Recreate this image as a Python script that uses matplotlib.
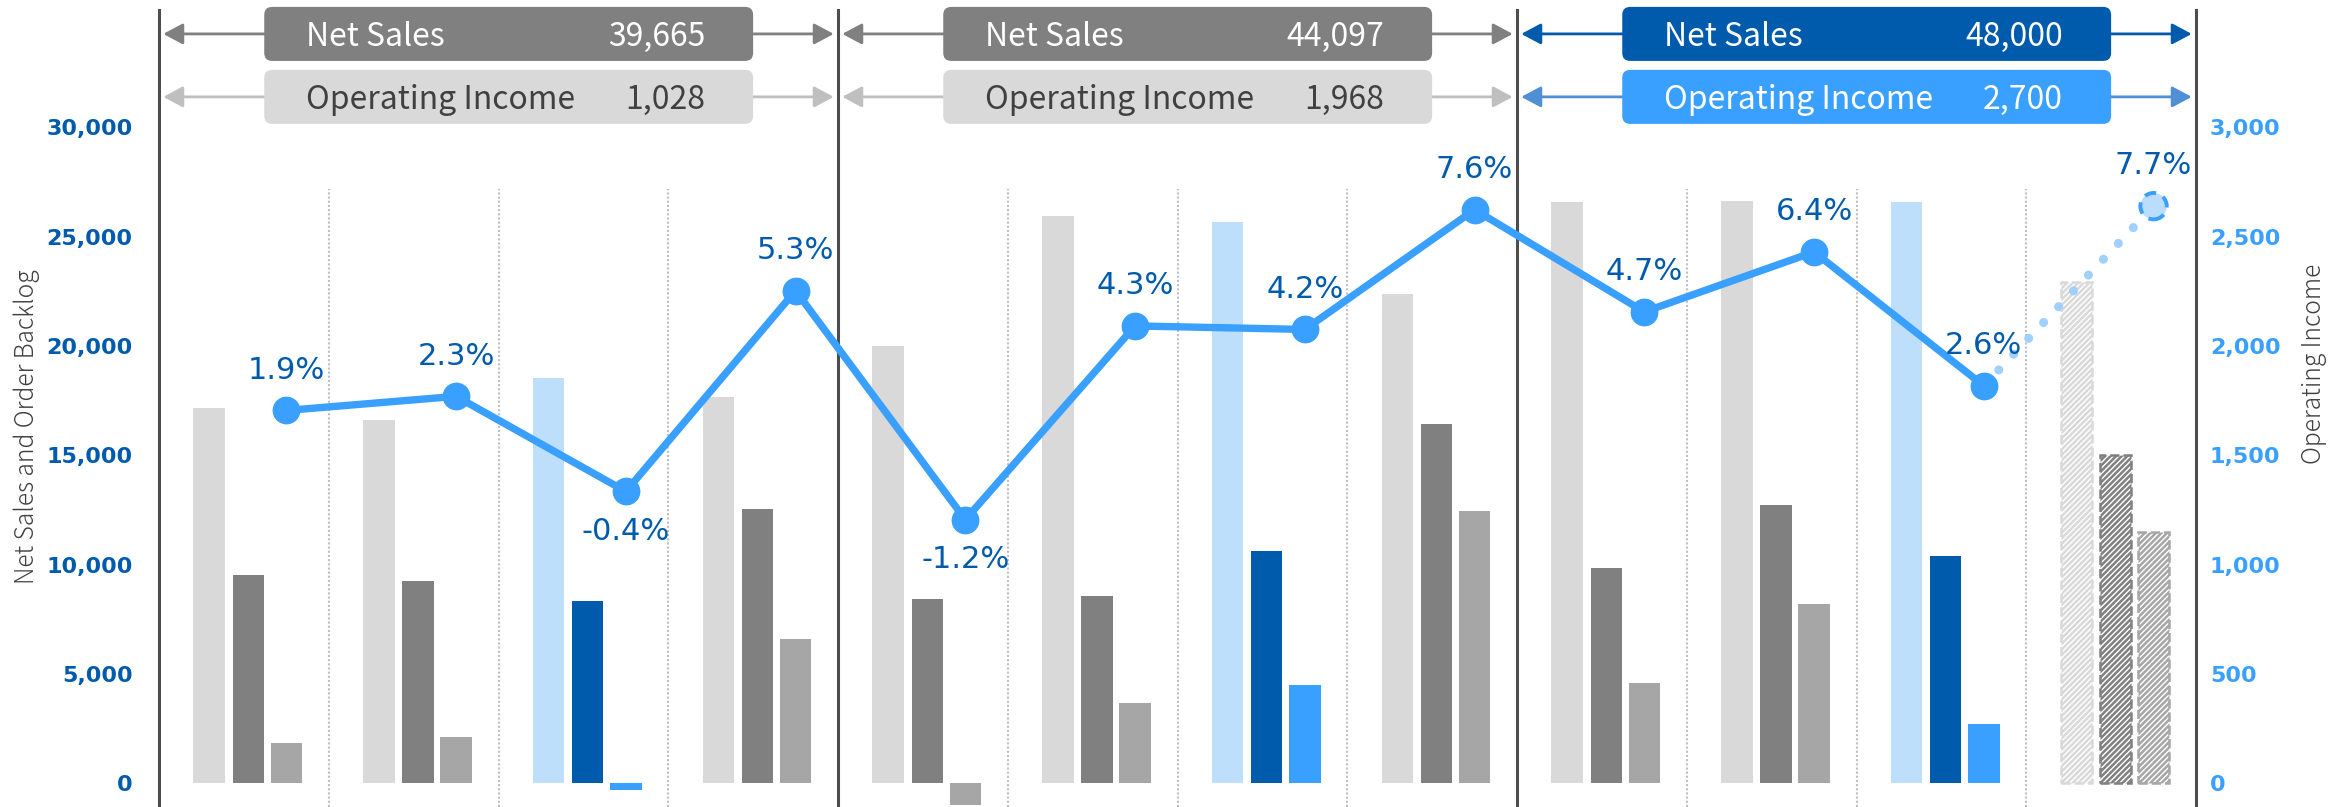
import numpy as np
import matplotlib.pyplot as plt
from matplotlib.patches import FancyBboxPatch
from matplotlib.ticker import FuncFormatter

# quarterly values (3 fiscal years x 4 quarters, last quarter = forecast)
quarters = np.arange(12)
backlog = [17190, 16640, 18560, 17670, 20000, 25960, 25690, 22400, 26580, 26640, 26580, 22950]
net_sales = [9520, 9250, 8360, 12535, 8430, 8580, 10630, 16457, 9860, 12740, 10400, 15000]
op_income = [183, 213, -30, 662, -100, 370, 450, 1248, 460, 820, 270, 1150]
margin = [1.9, 2.3, -0.4, 5.3, -1.2, 4.3, 4.2, 7.6, 4.7, 6.4, 2.6, 7.7]

# yearly totals shown in the header boxes
year_ns = [39665, 44097, 48000]
year_oi = [1028, 1968, 2700]

highlight = [2, 6, 10]
forecast = 11

plt.rcParams['hatch.linewidth'] = 1.8

fig = plt.figure(figsize=(23.49, 8.07), dpi=100)
ax = fig.add_axes([159 / 2349, 0, 2037 / 2349, 797 / 807])
ax2 = ax.twinx()
ax3 = ax.twinx()

ax.set_xlim(-0.5, 11.5)
ax.set_ylim(-1075, 35370)
ax2.set_ylim(-107.5, 3537)
ax3.set_ylim(-9.36, 13.27)

w = 0.185
off_bl, off_ns, off_oi = -0.205, 0.026, 0.25

for i in quarters:
    hi = i in highlight
    c_bl = '#bddffc' if hi else '#d9d9d9'
    c_ns = '#005bac' if hi else '#808080'
    c_oi = '#3aa0ff' if hi else '#a6a6a6'
    if i == forecast:
        ax.bar(i + off_bl, backlog[i], w, facecolor='white', edgecolor=c_bl,
               hatch='//////', linestyle='--', linewidth=1.8)
        ax.bar(i + off_ns, net_sales[i], w, facecolor='white', edgecolor=c_ns,
               hatch='//////', linestyle='--', linewidth=1.8)
        ax2.bar(i + off_oi, op_income[i], w, facecolor='white', edgecolor=c_oi,
                hatch='//////', linestyle='--', linewidth=1.8)
    else:
        ax.bar(i + off_bl, backlog[i], w, color=c_bl)
        ax.bar(i + off_ns, net_sales[i], w, color=c_ns)
        ax2.bar(i + off_oi, op_income[i], w, color=c_oi)

# dividers
for x in np.arange(0.5, 11.5, 1.0):
    if x in (3.5, 7.5):
        continue
    ax.axvline(x, ymin=0, ymax=0.775, color='#bfbfbf', lw=1.5, ls=(0, (1, 1)), zorder=0)
for x in (-0.5, 3.5, 7.5, 11.5):
    ax.axvline(x, color='#4d4d4d', lw=2.2, clip_on=False, zorder=3)

# operating margin line
xm = quarters + off_oi
ax3.plot(xm[10:], margin[10:], color='#9fd0ff', lw=6.5,
         ls=(0, (0.01, 2.4)), dash_capstyle='round', zorder=2)
ax3.plot(xm[:11], margin[:11], color='#3aa0ff', lw=5.3, marker='o', ms=19,
         solid_joinstyle='round', zorder=3)
ax3.scatter([xm[11]], [margin[11]], s=19 ** 2, facecolor='#bbddfc',
            edgecolor='#3aa0ff', linewidths=2.8, linestyle=(0, (3, 2)), zorder=4)
for x, m in zip(xm, margin):
    dy = 29 if m >= 0 else -29
    ax3.annotate(f'{m:.1f}%', (x, m), xytext=(0, dy), textcoords='offset points',
                 ha='center', va='center', fontsize=22, color='#005bac',
                 family='DejaVu Sans')

# header boxes with arrows
trans = ax3.get_xaxis_transform()
box_h = 0.0678
rows = [
    (0.970, 'Net Sales', year_ns, ['#808080', '#808080', '#005bac'],
     ['white', 'white', 'white'], ['#808080', '#808080', '#005bac']),
    (0.891, 'Operating Income', year_oi, ['#d9d9d9', '#d9d9d9', '#3aa0ff'],
     ['#404040', '#404040', 'white'], ['#bfbfbf', '#bfbfbf', '#4f8fd6']),
]
for yc, name, vals, fcs, tcs, acs in rows:
    for g in range(3):
        x0 = 4 * g - 0.5
        ax3.annotate('', xy=(x0 + 4 - 0.025, yc), xytext=(x0 + 0.025, yc),
                     xycoords=trans, textcoords=trans, annotation_clip=False,
                     arrowprops=dict(arrowstyle='<|-|>,head_length=0.6,head_width=0.32',
                                     color=acs[g], lw=2, shrinkA=0, shrinkB=0,
                                     mutation_scale=20))
        left, right = 4 * g + 0.12, 4 * g + 3.0
        box = FancyBboxPatch((left, yc - box_h / 2), right - left, box_h,
                             boxstyle='round,pad=0,rounding_size=0.047',
                             mutation_aspect=0.213, transform=trans,
                             facecolor=fcs[g], edgecolor='none', clip_on=False, zorder=5)
        ax3.add_patch(box)
        ax3.text(left + 0.247, yc - 0.004, name, transform=trans, ha='left', va='center',
                 fontsize=23, color=tcs[g], family='Noto Sans CJK JP', zorder=6)
        ax3.text(right - 0.283, yc - 0.004, f'{vals[g]:,}', transform=trans, ha='right',
                 va='center', fontsize=23, color=tcs[g], family='Noto Sans CJK JP',
                 zorder=6)

# axes styling
fmt = FuncFormatter(lambda v, p: f'{v:,.0f}')
ax.set_yticks(np.arange(0, 30001, 5000))
ax.yaxis.set_major_formatter(fmt)
ax2.set_yticks(np.arange(0, 3001, 500))
ax2.yaxis.set_major_formatter(fmt)
ax.tick_params(axis='y', length=0, pad=19, labelsize=16, labelcolor='#005bac')
ax2.tick_params(axis='y', length=0, pad=10, labelsize=16, labelcolor='#3aa0ff')
for t in ax.get_yticklabels() + ax2.get_yticklabels():
    t.set_fontweight('bold')
for a in (ax, ax2, ax3):
    a.set_xticks([])
    for s in a.spines.values():
        s.set_visible(False)
ax3.set_yticks([])

fig.text(27 / 2349, 1 - 427 / 807, 'Net Sales and Order Backlog', rotation=90,
         ha='center', va='center', fontsize=17.7, color='#404040',
         family='Noto Sans CJK JP', weight='light')
fig.text(2314 / 2349, 1 - 364 / 807, 'Operating Income', rotation=90,
         ha='center', va='center', fontsize=17.7, color='#404040',
         family='Noto Sans CJK JP', weight='light')

fig.savefig('out.png', dpi=100)
